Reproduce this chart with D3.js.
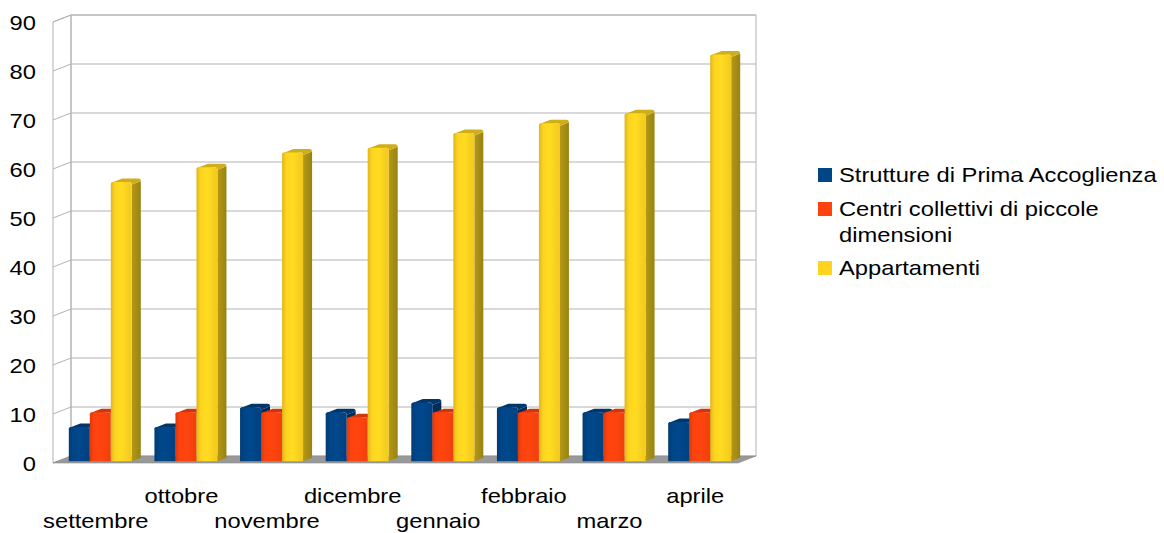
<!DOCTYPE html>
<html><head><meta charset="utf-8">
<script src="https://cdn.jsdelivr.net/npm/d3@7"></script>
<style>
body{margin:0;background:#fff}
svg{display:block}
text{font-family:"Liberation Sans",Arial,sans-serif;font-size:21px;fill:#000}
</style>
</head><body>
<svg id="chart" width="1164" height="533"></svg>
<script>
// Monthly counts per accommodation type
const months = ["settembre","ottobre","novembre","dicembre","gennaio","febbraio","marzo","aprile"];
const seriesNames = ["Strutture di Prima Accoglienza","Centri collettivi di piccole dimensioni","Appartamenti"];
const strutture = [7, 7, 11, 10, 12, 11, 10, 8];
const centri = [10, 10, 10, 9, 10, 10, 10, 10];
const appartamenti = [57, 60, 63, 64, 67, 69, 71, 83];
const yTicks = [0, 10, 20, 30, 40, 50, 60, 70, 80, 90];
const legendLines = [["Strutture di Prima Accoglienza"], ["Centri collettivi di piccole", "dimensioni"], ["Appartamenti"]];

const series = [strutture, centri, appartamenti];
const colors = ["#004586", "#ff420e", "#ffd320"];
const sideColors = ["#002b57", "#b02e08", "#a48c14"];
const topColors = ["#00366a", "#d0360b", "#cfae1a"];

const svg = d3.select("#chart");
const TX = 1.13; // horizontal stretch of text

// front plane of the box, and the depth offset to its back plane
const X0 = 53, X1 = 738, Y0 = 463, Y1 = 22, DX = 18, DY = -7;
const x = d3.scaleBand().domain(months).range([X0, X1]);
const xs = d3.scaleBand().domain([0, 1, 2]).range([0, x.bandwidth()]).paddingOuter(0.538);
const y = d3.scaleLinear().domain([0, 90]).range([Y0, Y1]);
const P = (px, py, t) => [px + DX * t, py + DY * t];
const poly = pts => "M" + pts.map(p => p.join(",")).join("L") + "Z";

// gradients for the bar fronts and sides
const defs = svg.append("defs");
colors.forEach((c, i) => {
  const g = defs.append("linearGradient").attr("id", "g" + i).attr("x1", 0).attr("x2", 1).attr("y1", 0).attr("y2", 0);
  g.append("stop").attr("offset", 0).attr("stop-color", d3.color(c).darker(0.4));
  g.append("stop").attr("offset", 0.2).attr("stop-color", d3.color(c));
  g.append("stop").attr("offset", 0.5).attr("stop-color", d3.color(c).brighter(0.12));
  g.append("stop").attr("offset", 1).attr("stop-color", d3.color(c).darker(0.15));
  const s = defs.append("linearGradient").attr("id", "s" + i).attr("x1", 0).attr("x2", 1).attr("y1", 0).attr("y2", 0);
  s.append("stop").attr("offset", 0).attr("stop-color", d3.color(sideColors[i]).brighter(0.25));
  s.append("stop").attr("offset", 1).attr("stop-color", d3.color(sideColors[i]).darker(0.2));
});

// walls and floor
const grid = svg.append("g").attr("fill", "none").attr("stroke", "#b3b3b3").attr("stroke-width", 1);
grid.append("path").attr("d", poly([P(X0, Y1, 1), P(X1, Y1, 1), P(X1, Y0, 1), P(X0, Y0, 1)]));
grid.append("path").attr("d", poly([P(X0, Y1, 0), P(X0, Y1, 1), P(X0, Y0, 1), P(X0, Y0, 0)]));
yTicks.filter(v => v > 0).forEach(v => {
  grid.append("path").attr("d", "M" + [P(X0, y(v), 0), P(X0, y(v), 1), P(X1, y(v), 1)].map(p => p.join(",")).join("L"));
});
svg.append("path").attr("d", poly([P(X0, Y0, 0), P(X1, Y0, 0), P(X1, Y0, 1), P(X0, Y0, 1)]))
  .attr("fill", "#999").attr("stroke", "#8a8a8a").attr("stroke-width", 0.6);

// bars: boxes with slightly rounded top edges
const t0 = 0.25, t1 = 0.75, r = 2.5;
const bars = svg.append("g");
months.forEach((m, mi) => {
  series.forEach((vals, si) => {
    const xl = x(m) + xs(si), xr = xl + xs.bandwidth();
    const yt = y(vals[mi]), yb = y(0);
    const g = bars.append("g");
    const [a, b] = [P(xr, yt, t0), P(xr, yt, t1)];
    g.append("path").attr("d", poly([P(xr, yt + r, t0), P(xr, yt + r, t1), P(xr, yb, t1), P(xr, yb, t0)])).attr("fill", `url(#s${si})`);
    const tl0 = P(xl + r, yt, t0), tl1 = P(xl + r, yt, t1);
    g.append("path")
      .attr("d", `M${P(xl, yt + r, t0)}Q${P(xl, yt, t0)} ${tl0}L${tl1}L${P(xr - r, yt, t1)}Q${b} ${P(xr, yt + r, t1)}L${P(xr, yt + r, t0)}Q${a} ${P(xr - r, yt, t0)}Z`)
      .attr("fill", topColors[si]);
    g.append("path")
      .attr("d", `M${P(xl, yb, t0)}L${P(xl, yt + r, t0)}Q${P(xl, yt, t0)} ${tl0}L${P(xr - r, yt, t0)}Q${a} ${P(xr, yt + r, t0)}L${P(xr, yb, t0)}Z`)
      .attr("fill", `url(#g${si})`);
  });
});

// y axis labels
svg.append("g").selectAll("text").data(yTicks).join("text")
  .attr("transform", d => `translate(36,${y(d) + 7.5}) scale(${TX},1)`)
  .attr("text-anchor", "end").text(d => d);

// x axis labels, staggered on two rows
svg.append("g").selectAll("text").data(months).join("text")
  .attr("transform", (d, i) => `translate(${x(d) + x.bandwidth() / 2},${i % 2 ? 503 : 528}) scale(${TX},1)`)
  .attr("text-anchor", "middle").text(d => d);

// legend
const legendRows = [182, 216, 275];
const leg = svg.append("g");
seriesNames.forEach((name, i) => {
  leg.append("rect").attr("x", 818).attr("y", legendRows[i] - 14).attr("width", 14).attr("height", 14).attr("fill", colors[i]);
  legendLines[i].forEach((line, li) => {
    leg.append("text").attr("transform", `translate(839,${legendRows[i] + li * 26}) scale(${TX},1)`).text(line);
  });
});
</script>
</body></html>
